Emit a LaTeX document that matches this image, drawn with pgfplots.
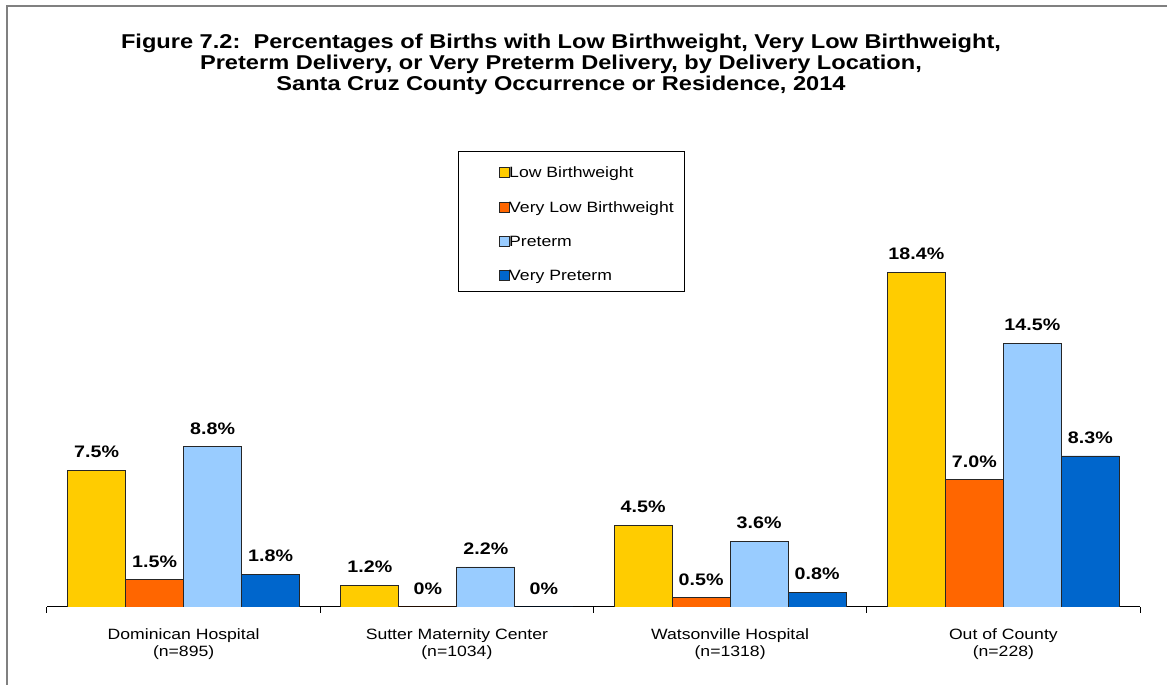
\documentclass[border=0pt]{standalone}
\usepackage{fontspec}
\setmainfont{Liberation Sans}[FakeStretch=1.18]
\usepackage{pgfplots}
\pgfplotsset{compat=1.18}
\definecolor{cYel}{HTML}{FFCC00}
\definecolor{cOra}{HTML}{FF6600}
\definecolor{cLbl}{HTML}{99CCFF}
\definecolor{cDbl}{HTML}{0066CC}
\definecolor{cFrame}{HTML}{808080}

\begin{document}
\begin{tikzpicture}
\useasboundingbox (-35.25pt,-58.5pt) rectangle (840pt,455.25pt);
\draw[cFrame, line width=1.5pt] (-30pt,-70pt) -- (-30pt,450.75pt) -- (850pt,450.75pt);
\node[align=center, font=\fontsize{15}{16.1}\selectfont\bfseries] at (385.5pt,407pt)
  {Figure 7.2:\ \ Percentages of Births with Low Birthweight, Very Low Birthweight,\\
   Preterm Delivery, or Very Preterm Delivery, by Delivery Location,\\
   Santa Cruz County Occurrence or Residence, 2014};
\begin{axis}[
  at={(0pt,0pt)}, anchor=south west,
  scale only axis,
  width=819.75pt, height=341.25pt,
  ybar=0pt, bar width=43.5pt,
  xmin=-0.5, xmax=3.5, ymin=0, ymax=25,
  axis x line*=bottom, axis y line=none,
  x axis line style={black, line width=0.75pt},
  xtick={0,1,2,3},
  xticklabels={{Dominican Hospital\\(n=895)},{Sutter Maternity Center\\(n=1034)},
               {Watsonville Hospital\\(n=1318)},{Out of County\\(n=228)}},
  major x tick style={draw=none},
  minor xtick={-0.5,0.5,1.5,2.5,3.5},
  minor x tick style={black, line width=0.75pt},
  tick align=outside, minor tick length=4.5pt,
  xticklabel style={align=center, anchor=north, inner sep=0pt, yshift=-11.5pt,
    font=\fontsize{11.2}{13}\selectfont},
  ytick=\empty,
  point meta=explicit symbolic,
  nodes near coords,
  nodes near coords style={font=\fontsize{12.5}{14}\selectfont\bfseries,
    anchor=south, inner sep=0pt, yshift=9pt, text=black},
  every axis plot/.append style={draw=black!85, line width=0.6pt},
  legend style={at={(0.376,1.002)}, anchor=north west, draw=black, line width=0.75pt,
    inner xsep=8pt, inner ysep=7.5pt, row sep=13pt,
    font=\fontsize{11.2}{13}\selectfont,
    nodes={inner sep=0pt, text height=12.25pt, text depth=0.5pt}},
  legend cell align=left,
  legend image code/.code={\path (-22pt,0pt);
    \draw[#1, line width=0.5pt] (0pt,-5.6pt) rectangle (7.5pt,1.9pt);},
]
\addplot[fill=cYel] coordinates {(0,7.5)[7.5\%] (1,1.2)[1.2\%] (2,4.5)[4.5\%] (3,18.4)[18.4\%]};
\addlegendentry{Low Birthweight}
\addplot[fill=cOra] coordinates {(0,1.5)[1.5\%] (1,0)[0\%] (2,0.5)[0.5\%] (3,7.0)[7.0\%]};
\addlegendentry{Very Low Birthweight}
\addplot[fill=cLbl] coordinates {(0,8.8)[8.8\%] (1,2.2)[2.2\%] (2,3.6)[3.6\%] (3,14.5)[14.5\%]};
\addlegendentry{Preterm}
\addplot[fill=cDbl] coordinates {(0,1.8)[1.8\%] (1,0)[0\%] (2,0.8)[0.8\%] (3,8.3)[8.3\%]};
\addlegendentry{Very Preterm}
\end{axis}
\end{tikzpicture}
\end{document}
